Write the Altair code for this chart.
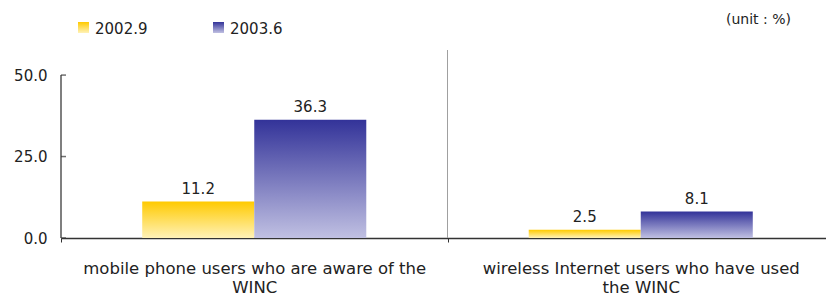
import altair as alt
import pandas as pd

categories = [
    "mobile phone users who are aware of the\nWINC",
    "wireless Internet users who have used\nthe WINC",
]
series = ["2002.9", "2003.6"]
values_2002_9 = [11.2, 2.5]
values_2003_6 = [36.3, 8.1]
y_ticks = [0, 25, 50]
unit_label = "(unit : %)"

FONT = "DejaVu Sans"
TEXT = "#222222"
Y_MAX = 57.7

rows = []
for s, vals in zip(series, [values_2002_9, values_2003_6]):
    for c, v in zip(categories, vals):
        rows.append({"category": c, "series": s, "value": v})
df = pd.DataFrame(rows)


def grad(top, bottom):
    return alt.Gradient(
        gradient="linear",
        stops=[alt.GradientStop(color=top, offset=0), alt.GradientStop(color=bottom, offset=1)],
        x1=0, x2=0, y1=0, y2=1,
    )


grads = {
    "2002.9": grad("#FFCA00", "#FFF2B8"),
    "2003.6": grad("#333399", "#C0C0E2"),
}

x_scale = alt.Scale(domain=categories, range=[0, 773], paddingInner=0, paddingOuter=0)
xoff_scale = alt.Scale(domain=series, paddingInner=0, paddingOuter=0.725)
y_scale = alt.Scale(domain=[0, Y_MAX], nice=False, zero=True)

x_axis = alt.Axis(
    title=None, labelExpr="split(datum.label, '\\n')", labelFontSize=16.5, labelFont=FONT,
    labelColor=TEXT, labelLineHeight=19, labelPadding=18, tickSize=4, tickBand="extent",
    domainColor="#333333", domainWidth=1.5, tickColor="#333333", labelAngle=0, grid=False,
    labelLimit=500,
)
y_axis = alt.Axis(
    title=None, values=y_ticks, format=".1f", domain=False, grid=False, labelFontSize=15,
    labelFont=FONT, labelColor=TEXT, labelPadding=14, ticks=False,
)


def X(field, **kw):
    return alt.X(field, scale=x_scale, axis=x_axis, sort=categories, **kw)


def Y(field):
    return alt.Y(field, scale=y_scale, axis=y_axis)


layers = []
for s in series:
    layers.append(
        alt.Chart(df).transform_filter(alt.datum.series == s).mark_bar(fill=grads[s]).encode(
            x=X("category:N"),
            xOffset=alt.XOffset("series:N", scale=xoff_scale),
            y=Y("value:Q"),
        )
    )

labels = alt.Chart(df).mark_text(
    baseline="alphabetic", dy=-8, fontSize=15, font=FONT, color=TEXT
).encode(
    x=X("category:N"),
    xOffset=alt.XOffset("series:N", scale=xoff_scale),
    y=Y("value:Q"),
    text=alt.Text("value:Q", format=".1f"),
)

div_df = pd.DataFrame({"category": categories[1:], "lo": [0], "hi": [Y_MAX]})
divider = alt.Chart(div_df).mark_rule(color="#a0a0a0", strokeWidth=1).encode(
    x=X("category:N", bandPosition=0),
    y=Y("lo:Q"),
    y2="hi:Q",
)

yline_df = pd.DataFrame({"lo": [min(y_ticks)], "hi": [max(y_ticks)]})
yline = alt.Chart(yline_df).mark_rule(color="#555555", strokeWidth=1.5).encode(
    x=alt.value(0),
    y=Y("lo:Q"),
    y2="hi:Q",
)

ytick_df = pd.DataFrame({"v": y_ticks})
yticks = alt.Chart(ytick_df).mark_tick(
    orient="horizontal", size=5, thickness=1.5, color="#333333"
).encode(
    x=alt.value(2.5),
    y=Y("v:Q"),
)

legend_df = pd.DataFrame({"series": series})
legend_x = {"2002.9": 22.5, "2003.6": 157.5}
legend_layers = []
for s in series:
    legend_layers.append(
        alt.Chart(legend_df).transform_filter(alt.datum.series == s).mark_square(
            size=121, fill=grads[s], opacity=1
        ).encode(x=alt.value(legend_x[s]), y=alt.value(-22.5))
    )
    legend_layers.append(
        alt.Chart(legend_df).transform_filter(alt.datum.series == s).mark_text(
            align="left", baseline="middle", fontSize=15, font=FONT, color=TEXT
        ).encode(x=alt.value(legend_x[s] + 11.5), y=alt.value(-21), text="series:N")
    )

unit = alt.Chart(pd.DataFrame({"t": [unit_label]})).mark_text(
    align="left", baseline="middle", fontSize=14, font=FONT, color=TEXT
).encode(x=alt.value(665), y=alt.value(-30), text="t:N")

chart = alt.layer(*layers, divider, yline, yticks, labels, *legend_layers, unit).properties(
    width=765, height=188,
    autosize=alt.AutoSizeParams(type="none"),
    padding={"left": 53, "top": 42, "right": 0, "bottom": 58},
    background="white",
).configure_view(stroke=None)

chart.save("out.html", embed_options={"renderer": "svg", "actions": False})
